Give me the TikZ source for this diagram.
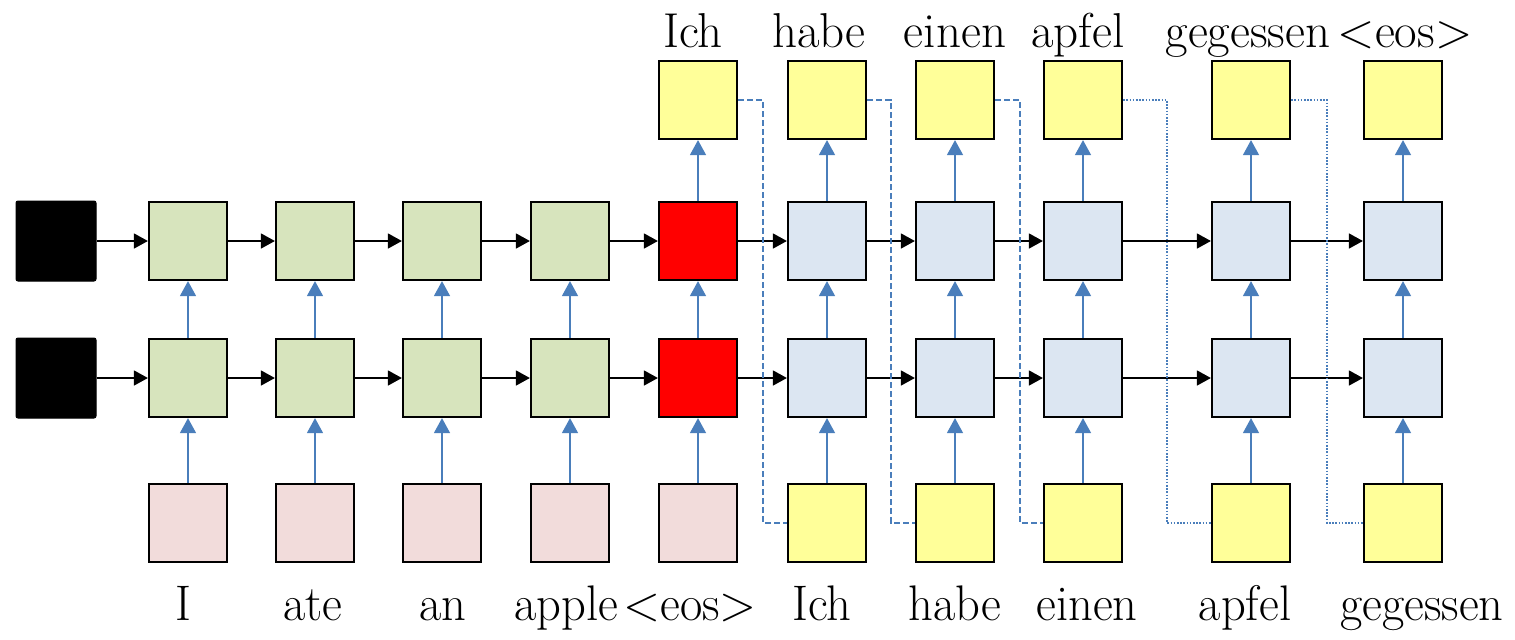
\documentclass[tikz,border=0pt]{standalone}
\usepackage{fontspec}
\usetikzlibrary{arrows.meta}
\definecolor{encgreen}{HTML}{D7E4BD}
\definecolor{inpink}{HTML}{F2DCDB}
\definecolor{decblue}{HTML}{DCE6F2}
\definecolor{wordyellow}{HTML}{FFFF99}
\definecolor{linkblue}{HTML}{4A7EBB}
\begin{document}
\begin{tikzpicture}[x=0.5pt,y=-0.5pt,
  box/.style={draw=black, line width=0.9pt, minimum size=39.2pt, inner sep=0pt},
  encbox/.style={box, fill=encgreen},
  inbox/.style={box, fill=inpink},
  decbox/.style={box, fill=decblue},
  wordbox/.style={box, fill=wordyellow},
  redbox/.style={box, fill=red},
  initbox/.style={draw=black, fill=black, line width=0.5pt, minimum size=40pt, inner sep=0pt, rounded corners=1pt},
  harrow/.style={draw=black, line width=0.75pt, -{Triangle[length=7pt,width=7.5pt]}},
  varrow/.style={draw=linkblue, line width=0.75pt, -{Triangle[length=7.5pt,width=8pt]}},
  dlink/.style={draw=linkblue, line width=0.7pt, dash pattern=on 3pt off 1.5pt},
  plink/.style={draw=linkblue, line width=0.7pt, dash pattern=on 0.8pt off 0.8pt},
  lbl/.style={font=\fontsize{24.5pt}{29pt}\selectfont, inner sep=0pt, anchor=base},
  blbl/.style={font=\fontsize{25pt}{30pt}\selectfont, inner sep=0pt, anchor=base, xscale=0.97}
]
\useasboundingbox (0,0) rectangle (1515,639);

% initial states
\node[initbox] (b1) at (56,241) {};
\node[initbox] (b2) at (56,378) {};

% encoder
\foreach \i/\x in {1/188,2/315,3/442,4/570} {
  \node[encbox] (eu\i) at (\x,241) {};
  \node[encbox] (el\i) at (\x,378) {};
  \node[inbox] (ei\i) at (\x,523) {};
}
\node[redbox] (eu5) at (698,241) {};
\node[redbox] (el5) at (698,378) {};
\node[inbox] (ei5) at (698,523) {};
\node[wordbox] (out0) at (698,100) {};

% decoder
\foreach \i/\x in {1/827,2/955,3/1083,4/1251,5/1403} {
  \node[decbox] (du\i) at (\x,241) {};
  \node[decbox] (dl\i) at (\x,378) {};
  \node[wordbox] (din\i) at (\x,523) {};
  \node[wordbox] (dout\i) at (\x,100) {};
}

% horizontal arrows
\draw[harrow] (b1) -- (eu1);
\draw[harrow] (b2) -- (el1);
\foreach \a/\b in {1/2,2/3,3/4,4/5} {
  \draw[harrow] (eu\a) -- (eu\b);
  \draw[harrow] (el\a) -- (el\b);
  \draw[harrow] (du\a) -- (du\b);
  \draw[harrow] (dl\a) -- (dl\b);
}
\draw[harrow] (eu5) -- (du1);
\draw[harrow] (el5) -- (dl1);

% vertical arrows
\foreach \i in {1,...,5} {
  \draw[varrow] (ei\i) -- (el\i);
  \draw[varrow] (el\i) -- (eu\i);
  \draw[varrow] (din\i) -- (dl\i);
  \draw[varrow] (dl\i) -- (du\i);
  \draw[varrow] (du\i) -- (dout\i);
}
\draw[varrow] (eu5) -- (out0);

% feedback links
\coordinate (k1) at (763,300);
\coordinate (k2) at (891,300);
\coordinate (k3) at (1020,300);
\coordinate (k4) at (1167,300);
\coordinate (k5) at (1327,300);
\draw[dlink] (out0.east) -| (k1) |- (din1.west);
\draw[dlink] (dout1.east) -| (k2) |- (din2.west);
\draw[dlink] (dout2.east) -| (k3) |- (din3.west);
\draw[plink] (dout3.east) -| (k4) |- (din4.west);
\draw[plink] (dout4.east) -| (k5) |- (din5.west);

% top labels
\node[lbl] (t0) at (693,47) {Ich};
\node[lbl] (t1) at (819,47) {habe};
\node[lbl] (t2) at (955,47) {einen};
\node[lbl] (t3) at (1078,47) {apfel};
\node[lbl] (t4) at (1248,47) {gegessen};
\node[lbl] (t5) at (1405,47) {<eos>};

% bottom labels
\node[blbl] (s1) at (183,620) {I};
\node[blbl] (s2) at (313,620) {ate};
\node[blbl] (s3) at (443,620) {an};
\node[blbl] (s4) at (566,620) {apple};
\node[blbl] (s5) at (690,620) {<eos>};
\node[blbl] (s6) at (822,620) {Ich};
\node[blbl] (s7) at (955,620) {habe};
\node[blbl] (s8) at (1087,620) {einen};
\node[blbl] (s9) at (1245,620) {apfel};
\node[blbl] (s10) at (1422,620) {gegessen};
\end{tikzpicture}
\end{document}
